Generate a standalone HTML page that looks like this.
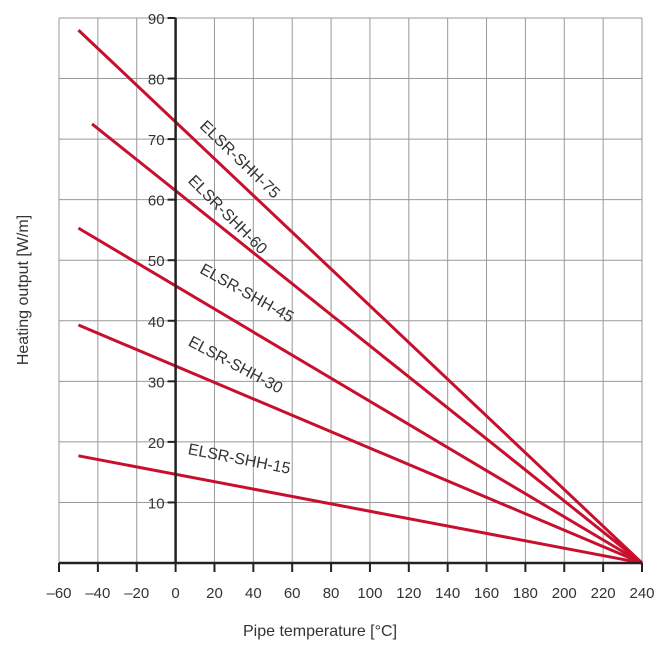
<!DOCTYPE html>
<html><head><meta charset="utf-8"><style>
body{margin:0;background:#fff;}
svg text{font-family:"Liberation Sans",sans-serif;fill:#333;}
</style></head><body>
<svg id="chart" width="669" height="657" xmlns="http://www.w3.org/2000/svg">
<g id="grid"></g>
<g id="series"></g>
<g id="axes"></g>
<g id="labels"></g>
<text x="320" y="636" text-anchor="middle" font-size="16">Pipe temperature [°C]</text>
<text transform="translate(28,290) rotate(-90)" text-anchor="middle" font-size="16">Heating output [W/m]</text>
</svg>
<script>
const xTicks=[-60,-40,-20,0,20,40,60,80,100,120,140,160,180,200,220,240];
const yTicks=[10,20,30,40,50,60,70,80,90];
const seriesNames=["ELSR-SHH-75","ELSR-SHH-60","ELSR-SHH-45","ELSR-SHH-30","ELSR-SHH-15"];
const startX=[-50,-43,-50,-50,-50];
const startY=[88,72.5,55.3,39.3,17.7];
const endX=[240,240,240,240,240];
const endY=[0,0,0,0,0];
const labelX=[12,6,12,6,6];
const labelY=[72,63,48,36,18];
const labelAngle=[44,45,29,28,11];

const NS="http://www.w3.org/2000/svg";
const sx=v=>59+(v+60)*(583/300);
const sy=v=>563-v*(545/90);
function mk(tag,attrs,parent){const e=document.createElementNS(NS,tag);for(const k in attrs)e.setAttribute(k,attrs[k]);parent.appendChild(e);return e;}
const grid=document.getElementById('grid'),axes=document.getElementById('axes'),ser=document.getElementById('series'),lab=document.getElementById('labels');
xTicks.forEach(t=>{
 if(t!==0){const l=mk('line',{x1:sx(t),x2:sx(t),y1:sy(90),y2:sy(0),stroke:'#999','stroke-width':1},grid);
 }
 const tk=mk('line',{x1:sx(t),x2:sx(t),y1:sy(0),y2:sy(0)+9,stroke:'#222','stroke-width':2},axes);
 
 const tx=mk('text',{x:sx(t),y:598,'text-anchor':'middle','font-size':15},axes);
 tx.textContent=t<0?'\u2013'+(-t):String(t);
 
});
yTicks.forEach(t=>{
 const l=mk('line',{x1:sx(-60),x2:sx(240),y1:sy(t),y2:sy(t),stroke:'#999','stroke-width':1},grid);
 
 const tk=mk('line',{x1:sx(0)-8,x2:sx(0),y1:sy(t),y2:sy(t),stroke:'#222','stroke-width':2},axes);
 
 const tx=mk('text',{x:sx(0)-11,y:sy(t)+6,'text-anchor':'end','font-size':15},axes);
 tx.textContent=String(t);
 
});
const xa=mk('line',{x1:sx(-60),x2:sx(240),y1:sy(0),y2:sy(0),stroke:'#222','stroke-width':2.5},axes);

const ya=mk('line',{x1:sx(0),x2:sx(0),y1:sy(90),y2:sy(0),stroke:'#222','stroke-width':2.5},axes);

seriesNames.forEach((n,i)=>{
 const l=mk('line',{x1:sx(startX[i]),y1:sy(startY[i]),x2:sx(endX[i]),y2:sy(endY[i]),stroke:'#c8102e','stroke-width':3},ser);
 
 const t=mk('text',{x:sx(labelX[i]),y:sy(labelY[i]),'font-size':16,fill:'#222',transform:`rotate(${labelAngle[i]} ${sx(labelX[i])} ${sy(labelY[i])})`},lab);
 t.textContent=n;
 
});
</script>
</body></html>
